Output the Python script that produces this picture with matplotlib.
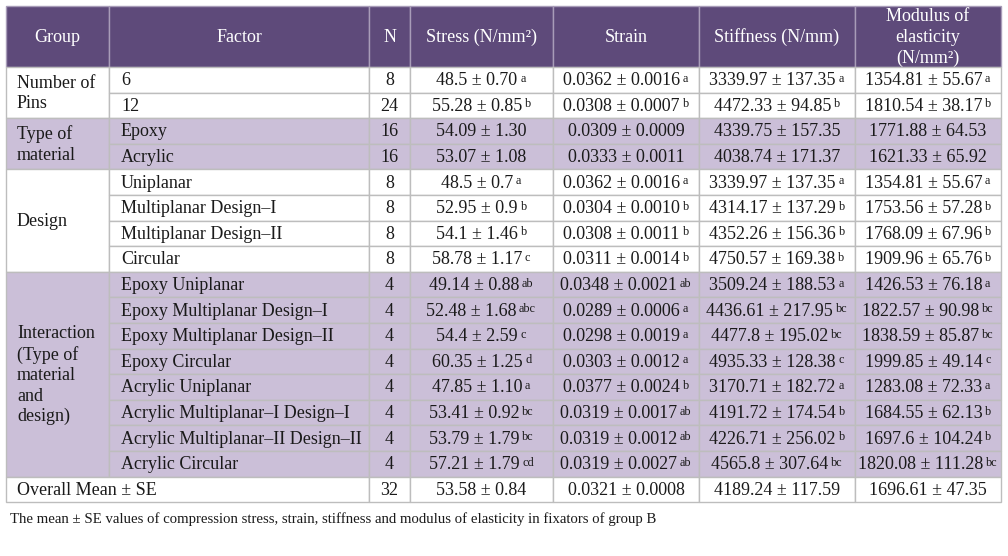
import matplotlib.pyplot as plt
from matplotlib.patches import Rectangle

# Table data
headers = ["Group", "Factor", "N", "Stress (N/mm²)", "Strain", "Stiffness (N/mm)",
           "Modulus of\nelasticity\n(N/mm²)"]
group_labels = ["Number of\nPins", "Type of\nmaterial", "Design",
                "Interaction\n(Type of\nmaterial\nand\ndesign)"]
group_sizes = [2, 2, 4, 8]
factors = ["6", "12", "Epoxy", "Acrylic", "Uniplanar", "Multiplanar Design–I",
           "Multiplanar Design–II", "Circular", "Epoxy Uniplanar",
           "Epoxy Multiplanar Design–I", "Epoxy Multiplanar Design–II", "Epoxy Circular",
           "Acrylic Uniplanar", "Acrylic Multiplanar–I Design–I",
           "Acrylic Multiplanar–II Design–II", "Acrylic Circular"]
n_vals = [8, 24, 16, 16, 8, 8, 8, 8, 4, 4, 4, 4, 4, 4, 4, 4]
stress = ["48.5 ± 0.70", "55.28 ± 0.85", "54.09 ± 1.30", "53.07 ± 1.08", "48.5 ± 0.7",
          "52.95 ± 0.9", "54.1 ± 1.46", "58.78 ± 1.17", "49.14 ± 0.88", "52.48 ± 1.68",
          "54.4 ± 2.59", "60.35 ± 1.25", "47.85 ± 1.10", "53.41 ± 0.92", "53.79 ± 1.79",
          "57.21 ± 1.79"]
stress_sup = ["a", "b", "", "", "a", "b", "b", "c", "ab", "abc", "c", "d", "a", "bc", "bc", "cd"]
strain = ["0.0362 ± 0.0016", "0.0308 ± 0.0007", "0.0309 ± 0.0009", "0.0333 ± 0.0011",
          "0.0362 ± 0.0016", "0.0304 ± 0.0010", "0.0308 ± 0.0011", "0.0311 ± 0.0014",
          "0.0348 ± 0.0021", "0.0289 ± 0.0006", "0.0298 ± 0.0019", "0.0303 ± 0.0012",
          "0.0377 ± 0.0024", "0.0319 ± 0.0017", "0.0319 ± 0.0012", "0.0319 ± 0.0027"]
strain_sup = ["a", "b", "", "", "a", "b", "b", "b", "ab", "a", "a", "a", "b", "ab", "ab", "ab"]
stiffness = ["3339.97 ± 137.35", "4472.33 ± 94.85", "4339.75 ± 157.35", "4038.74 ± 171.37",
             "3339.97 ± 137.35", "4314.17 ± 137.29", "4352.26 ± 156.36", "4750.57 ± 169.38",
             "3509.24 ± 188.53", "4436.61 ± 217.95", "4477.8 ± 195.02", "4935.33 ± 128.38",
             "3170.71 ± 182.72", "4191.72 ± 174.54", "4226.71 ± 256.02", "4565.8 ± 307.64"]
stiffness_sup = ["a", "b", "", "", "a", "b", "b", "b", "a", "bc", "bc", "c", "a", "b", "b", "bc"]
modulus = ["1354.81 ± 55.67", "1810.54 ± 38.17", "1771.88 ± 64.53", "1621.33 ± 65.92",
           "1354.81 ± 55.67", "1753.56 ± 57.28", "1768.09 ± 67.96", "1909.96 ± 65.76",
           "1426.53 ± 76.18", "1822.57 ± 90.98", "1838.59 ± 85.87", "1999.85 ± 49.14",
           "1283.08 ± 72.33", "1684.55 ± 62.13", "1697.6 ± 104.24", "1820.08 ± 111.28"]
modulus_sup = ["a", "b", "", "", "a", "b", "b", "b", "a", "bc", "bc", "c", "a", "b", "b", "bc"]
overall_label = "Overall Mean ± SE"
overall = ["32", "53.58 ± 0.84", "0.0321 ± 0.0008", "4189.24 ± 117.59", "1696.61 ± 47.35"]
caption = ("The mean ± SE values of compression stress, strain, stiffness and modulus "
           "of elasticity in fixators of group B")

# layout (pixels)
col_x = [6, 109, 369, 410, 553, 699, 855, 1001]
top, head_bot, row_h = 6, 67, 25.6
header_col = "#5e4a7a"
lav = "#cbbfd8"
grid = "#bdbdbd"
txt = "#1a1a1a"
fs = 13
font = "Liberation Serif"

fig = plt.figure(figsize=(10.08, 5.56), dpi=100)
ax = fig.add_axes([0, 0, 1, 1])
ax.set_xlim(0, 1008)
ax.set_ylim(556, 0)
ax.axis("off")


def cell(x0, x1, y0, y1, fc, ec=grid):
    ax.add_patch(Rectangle((x0, y0), x1 - x0, y1 - y0, facecolor=fc, edgecolor=ec, lw=1.0))


# header
for i, h in enumerate(headers):
    cell(col_x[i], col_x[i + 1], top, head_bot, header_col, ec="#a89cb8")
    ax.text((col_x[i] + col_x[i + 1]) / 2, (top + head_bot) / 2 + 1, h, ha="center",
            va="center", color="white", fontsize=fs, family=font, linespacing=1.3)


def value(xc, yc, s, sup):
    shift = len(sup) * 3.0 + (1.5 if sup else 0)
    t = ax.text(xc - shift, yc, s, ha="center", va="center", color=txt, fontsize=fs,
                family=font)
    if sup:
        ax.annotate(sup, xy=(1, 1), xycoords=t, xytext=(2, -0.3), textcoords="offset points",
                    ha="left", va="top", fontsize=fs * 0.68, color=txt, family=font)


y = head_bot
r = 0
for g, (lab, size) in enumerate(zip(group_labels, group_sizes)):
    fc = "white" if g % 2 == 0 else lav
    cell(col_x[0], col_x[1], y, y + size * row_h, fc)
    ax.text(col_x[0] + 11, y + size * row_h / 2 + 1, lab, ha="left", va="center", color=txt,
            fontsize=fs, family=font, linespacing=1.27)
    for k in range(size):
        y0, y1 = y + k * row_h, y + (k + 1) * row_h
        yc = (y0 + y1) / 2 + 1
        for c in range(1, 7):
            cell(col_x[c], col_x[c + 1], y0, y1, fc)
        ax.text(col_x[1] + 12, yc, factors[r], ha="left", va="center", color=txt,
                fontsize=fs, family=font)
        ax.text((col_x[2] + col_x[3]) / 2, yc, str(n_vals[r]), ha="center", va="center",
                color=txt, fontsize=fs, family=font)
        for c, (vals, sups) in enumerate([(stress, stress_sup), (strain, strain_sup),
                                          (stiffness, stiffness_sup), (modulus, modulus_sup)]):
            value((col_x[c + 3] + col_x[c + 4]) / 2, yc, vals[r], sups[r])
        r += 1
    y += size * row_h

# overall row
y0, y1 = y, y + row_h
yc = (y0 + y1) / 2 + 1
cell(col_x[0], col_x[2], y0, y1, "white")
ax.text(col_x[0] + 11, yc, overall_label, ha="left", va="center", color=txt, fontsize=fs,
        family=font)
for c in range(2, 7):
    cell(col_x[c], col_x[c + 1], y0, y1, "white")
    ax.text((col_x[c] + col_x[c + 1]) / 2, yc, overall[c - 2], ha="center", va="center",
            color=txt, fontsize=fs, family=font)

ax.text(10, y1 + 17, caption, ha="left", va="center", color=txt, fontsize=fs * 0.82,
        family=font)

fig.savefig("out.png", dpi=100)
